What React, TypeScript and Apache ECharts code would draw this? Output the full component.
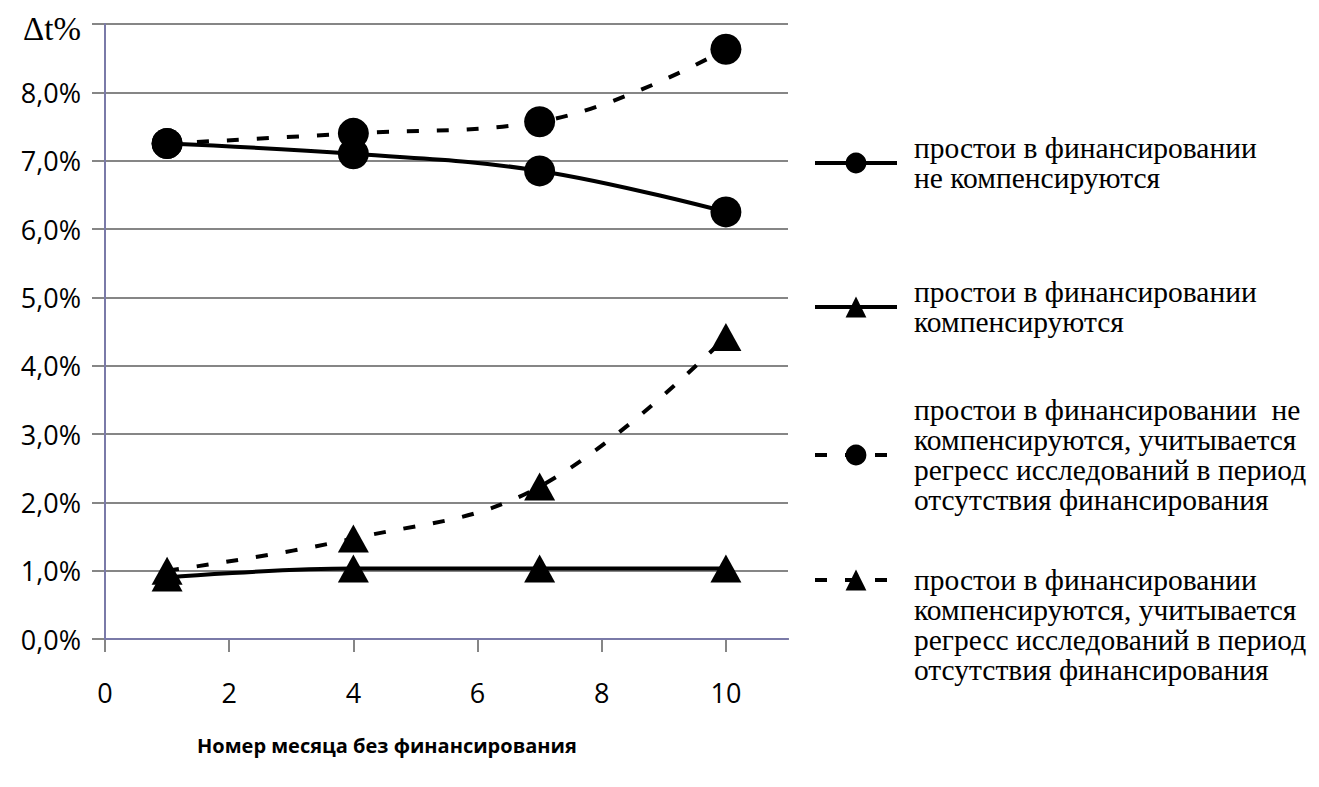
import React, { useEffect, useRef } from "react";
import * as echarts from "echarts";

const months = [1, 4, 7, 10];
const notCompensated = [7.25, 7.1, 6.85, 6.25];
const compensated = [0.9, 1.03, 1.03, 1.03];
const notCompensatedRegress = [7.25, 7.4, 7.57, 8.63];
const compensatedRegress = [1.0, 1.47, 2.23, 4.42];

const xTickValues = [0, 2, 4, 6, 8, 10];
const yAxisName = "Δt%";
const xAxisTitle = "Номер месяца без финансирования";

const seriesNames = [
  "простои в финансировании\nне компенсируются",
  "простои в финансировании\nкомпенсируются",
  "простои в финансировании  не\nкомпенсируются, учитывается\nрегресс исследований в период\nотсутствия финансирования",
  "простои в финансировании\nкомпенсируются, учитывается\nрегресс исследований в период\nотсутствия финансирования",
];

const pairs = (ys: number[]) => months.map((m, i) => [m, ys[i]]);

export default function App() {
  const ref = useRef<HTMLDivElement>(null);
  useEffect(() => {
    if (!ref.current) return;
    const chart = echarts.init(ref.current, undefined, { renderer: "svg" });
    const gray = "#868686";
    const border = "#7a7aa8";
    const LH = 30;
    // blank lines before/after so that the icon sits at the wanted text line
    const padBefore = [0, 0, 0, 3];
    const padAfter = [0, 0, 0, 0];
    const iconCenters = [163, 307, 455, 580];
    const dashed = [12, 18];
    const mk = (
      name: string,
      ys: number[],
      symbol: string,
      size: any,
      dash: boolean
    ) => ({
      name,
      type: "line",
      data: pairs(ys),
      smooth: 0.4,
      symbol,
      symbolSize: size,
      itemStyle: { color: "#000" },
      lineStyle: { color: "#000", width: 4, type: dash ? dashed : "solid" },
      z: 3,
    });
    chart.setOption({
      animation: false,
      backgroundColor: "#fff",
      title: {
        text: xAxisTitle,
        left: 192,
        top: 730,
        textStyle: {
          fontFamily: "Open Sans",
          fontWeight: "bold",
          fontSize: 20,
          color: "#000",
        },
      },
      grid: { left: 105, right: 531, top: 24, bottom: 148 },
      legend: seriesNames.map((n, i) => {
        const lines = n.split("\n");
        const total = lines.length + padBefore[i] + padAfter[i];
        const text = [
          ...Array(padBefore[i]).fill(" "),
          ...lines,
          ...Array(padAfter[i]).fill(" "),
        ].join("\n");
        return {
          data: [n],
          left: 813,
          top: iconCenters[i] - (total * LH) / 2,
          orient: "vertical",
          itemWidth: 82,
          itemHeight: 26,
          padding: 0,
          selectedMode: false,
          lineStyle: { width: 4 },
          formatter: () => text,
          textStyle: {
            fontFamily: "Liberation Serif",
            fontSize: 29.5,
            lineHeight: LH,
            color: "#000",
            padding: [0, 0, 0, 12],
          },
        };
      }),
      xAxis: [
        {
          type: "value",
          min: 0,
          max: 11,
          interval: 2,
          axisLine: { show: true, lineStyle: { color: gray, width: 2 } },
          axisTick: {
            show: true,
            length: 13,
            customValues: xTickValues,
            lineStyle: { color: gray, width: 2 },
          },
          axisLabel: {
            customValues: xTickValues,
            formatter: (v: number) => (v > 10 ? "" : String(v)),
            margin: 40,
            fontFamily: "Open Sans",
            fontSize: 27,
            color: "#000",
          },
          splitLine: { show: false },
        },
        {
          type: "value",
          position: "top",
          min: 0,
          max: 11,
          z: 2,
          axisLine: { show: true, lineStyle: { color: border, width: 2 } },
          axisTick: { show: false },
          axisLabel: { show: false },
          splitLine: { show: false },
        },
      ],
      yAxis: [
        {
          type: "value",
          min: 0,
          max: 9,
          interval: 1,
          axisLine: { show: true, lineStyle: { color: gray, width: 2 } },
          axisTick: { show: true, length: 13, lineStyle: { color: gray, width: 2 } },
          splitLine: { show: true, lineStyle: { color: gray, width: 2 } },
          axisLabel: {
            margin: 24,
            fontFamily: "Open Sans",
            fontSize: 27,
            color: "#000",
            formatter: (v: number) =>
              v >= 9 ? "{d|" + yAxisName + "}" : v.toFixed(1).replace(".", ",") + "%",
            rich: {
              d: {
                fontFamily: "Liberation Serif",
                fontSize: 33,
                color: "#000",
                padding: [10, 0, 0, 0],
              },
            },
          },
        },
        {
          type: "value",
          position: "right",
          min: 0,
          max: 9,
          z: 2,
          axisLine: { show: true, lineStyle: { color: border, width: 2 } },
          axisTick: { show: false },
          axisLabel: { show: false },
          splitLine: { show: false },
        },
      ],
      series: [
        mk(seriesNames[0], notCompensated, "circle", 31, false),
        mk(seriesNames[1], compensated, "triangle", [31, 28], false),
        mk(seriesNames[2], notCompensatedRegress, "circle", 31, true),
        mk(seriesNames[3], compensatedRegress, "triangle", [31, 28], true),
      ],
    });
    return () => chart.dispose();
  }, []);
  return (
    <div
      ref={ref}
      style={{ position: "absolute", left: 0, top: 0, width: 1319, height: 787 }}
    />
  );
}
